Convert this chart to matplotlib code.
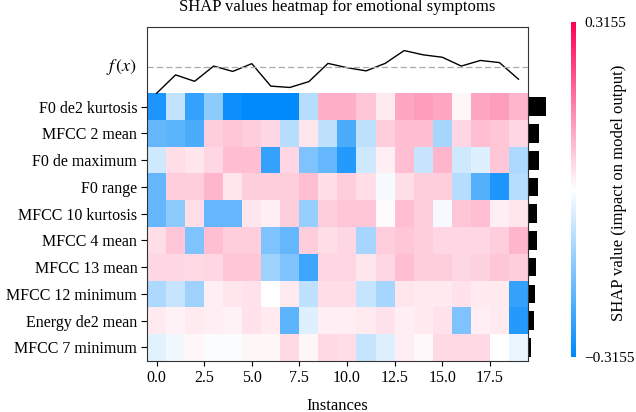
import numpy as np
import matplotlib
matplotlib.use("Agg")
import matplotlib.pyplot as plt
from matplotlib.colors import LinearSegmentedColormap

plt.rcParams["font.family"] = ["Liberation Serif", "DejaVu Serif"]
plt.rcParams["mathtext.fontset"] = "stix"

# Merkmale (oben -> unten) und SHAP-Werte je Instanz
features = [
    "F0 de2 kurtosis",
    "MFCC 2 mean",
    "F0 de maximum",
    "F0 range",
    "MFCC 10 kurtosis",
    "MFCC 4 mean",
    "MFCC 13 mean",
    "MFCC 12 minimum",
    "Energy de2 mean",
    "MFCC 7 minimum",
]

f0_de2_kurtosis = [-0.28, -0.075, -0.25, -0.14, -0.30, -0.315, -0.315, -0.315, -0.09, 0.10,
                   0.10, 0.07, 0.025, 0.11, 0.12, 0.11, 0.01, 0.11, 0.12, 0.09]
mfcc2_mean = [-0.19, -0.20, -0.22, 0.06, 0.07, 0.06, 0.05, -0.09, 0.03, -0.08,
              -0.22, -0.08, 0.06, 0.08, 0.08, -0.11, 0.05, 0.08, 0.07, 0.05]
f0_de_maximum = [-0.06, 0.04, 0.03, 0.05, 0.08, 0.08, -0.25, 0.05, -0.16, -0.19,
                 -0.27, -0.06, 0.02, 0.08, -0.07, 0.09, -0.06, -0.04, 0.07, -0.10]
f0_range = [-0.19, 0.06, 0.06, 0.09, 0.03, 0.06, 0.06, 0.06, 0.08, 0.04,
            0.06, 0.04, -0.01, 0.04, 0.06, 0.06, -0.09, -0.21, -0.28, -0.09]
mfcc10_kurtosis = [-0.19, -0.14, 0.04, -0.19, -0.19, 0.03, 0.02, 0.06, -0.13, 0.06,
                   0.07, 0.07, 0.005, 0.08, 0.06, -0.01, 0.07, 0.08, 0.02, 0.03]
mfcc4_mean = [0.04, 0.07, -0.16, 0.08, 0.06, 0.06, -0.16, -0.19, 0.06, 0.04,
              0.05, -0.11, 0.06, 0.07, 0.06, 0.05, 0.05, 0.05, 0.06, 0.09]
mfcc13_mean = [0.05, 0.05, 0.045, 0.05, 0.07, 0.07, -0.12, -0.16, -0.24, 0.05,
               0.05, 0.03, 0.05, 0.08, 0.06, 0.06, 0.05, 0.055, 0.07, 0.06]
mfcc12_minimum = [-0.10, -0.07, -0.12, 0.02, 0.03, 0.035, 0.0, 0.025, -0.08, 0.04,
                  0.04, -0.07, -0.11, 0.03, 0.025, 0.025, 0.035, 0.025, 0.025, -0.25]
energy_de2_mean = [0.025, 0.015, 0.025, 0.02, 0.015, 0.035, 0.025, -0.20, -0.04, 0.02,
                   0.02, 0.025, 0.035, 0.02, 0.025, 0.035, -0.16, 0.02, 0.025, -0.27]
mfcc7_minimum = [-0.035, -0.015, 0.01, -0.005, -0.005, 0.012, 0.012, 0.045, 0.012, 0.045,
                 0.04, -0.07, -0.04, 0.02, 0.008, 0.045, 0.045, 0.045, 0.0, -0.025]

# Modellausgabe f(x) je Instanz (normiert auf max |f(x)|)
fx = [-1.0, -0.31, -0.55, 0.02, -0.18, 0.11, -0.73, -0.78, -0.56, 0.12,
      -0.04, -0.16, 0.12, 0.60, 0.44, 0.35, 0.02, 0.23, 0.15, -0.47]

# mittlere |SHAP| je Merkmal (Balken rechts)
importance = [0.160, 0.099, 0.099, 0.087, 0.079, 0.076, 0.070, 0.058, 0.052, 0.026]

vmax = 0.3155


def main():
    values = np.array([f0_de2_kurtosis, mfcc2_mean, f0_de_maximum, f0_range,
                       mfcc10_kurtosis, mfcc4_mean, mfcc13_mean, mfcc12_minimum,
                       energy_de2_mean, mfcc7_minimum])
    n_feat, n_inst = values.shape

    cmap = LinearSegmentedColormap.from_list(
        "red_blue", [(0.0, 0.5412, 0.9882), (1.0, 1.0, 1.0), (1.0, 0.0, 0.3176)])

    fig = plt.figure(figsize=(6.36, 4.12), dpi=100)
    ax = fig.add_axes([147 / 636, 1 - 360.7 / 412, 381 / 636, 334.2 / 412])

    im = ax.imshow(values, aspect="auto", interpolation="nearest",
                   vmin=-vmax, vmax=vmax, cmap=cmap)

    # f(x)-Kurve oben
    ax.plot(np.arange(n_inst), -np.array(fx) - 1.5, color="black", linewidth=1)
    ax.axhline(-1.5, color="#aaaaaa", linestyle=(0, (5, 2.5)), linewidth=0.9)
    ax.text(-1, -1.5, "$f\\,(x)$", ha="right", va="center", fontsize=13)

    # Balken rechts
    imp = np.array(importance)
    ax.barh(np.arange(n_feat), imp / imp.max() * 0.96, 0.7, left=n_inst - 0.5,
            color="black", clip_on=False)

    ax.set_xlim(-0.5, n_inst - 0.5)
    ax.set_ylim(n_feat - 0.5, -3)
    ax.set_yticks(np.arange(n_feat))
    ax.set_yticklabels(features, fontsize=11.5)
    ax.tick_params(axis="y", length=4.5, pad=2.5)
    ax.set_xticks(np.arange(0, 18, 2.5))
    ax.set_xticklabels([f"{t:.1f}" for t in np.arange(0, 18, 2.5)], fontsize=11.5)
    ax.set_xlabel("Instances", fontsize=12, labelpad=8)
    ax.set_title("SHAP values heatmap for emotional symptoms", fontsize=12, pad=11)
    for s in ax.spines.values():
        s.set_color("#333333")

    # Farbskala
    cax = fig.add_axes([571 / 636, 1 - 356.7 / 412, 5 / 636, 335 / 412])
    cb = fig.colorbar(im, cax=cax, ticks=[-vmax, vmax])
    cb.set_ticklabels(["\u22120.3155", "0.3155"])
    cb.outline.set_visible(False)
    cax.tick_params(length=0, labelsize=11, pad=6)
    cb.set_label("SHAP value (impact on model output)", fontsize=12)
    cax.yaxis.set_label_coords(8.0, 0.49)

    fig.savefig("out.png", dpi=100)


if __name__ == "__main__":
    main()
